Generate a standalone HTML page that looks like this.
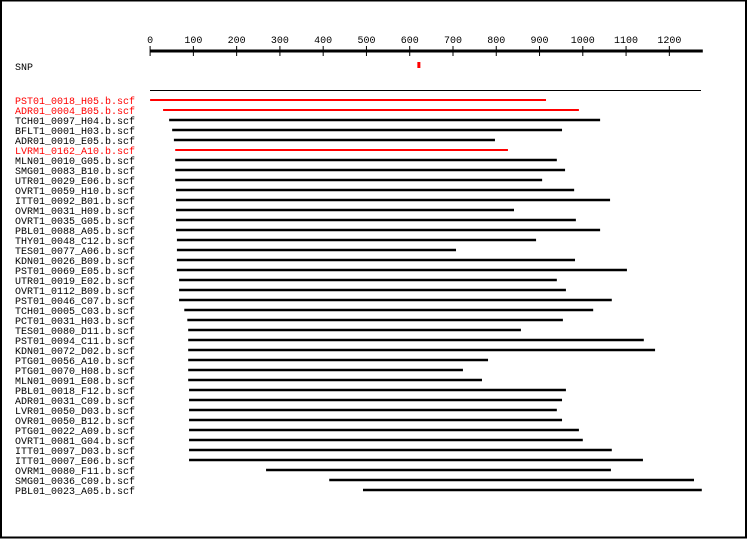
<!DOCTYPE html>
<html><head><meta charset="utf-8"><style>
html,body{margin:0;padding:0;background:#fff;}
svg{display:block;font-family:"Liberation Mono","DejaVu Sans Mono",monospace;}
</style></head><body>
<svg id="chart" width="750" height="540">
<rect x="1" y="0.5" width="745" height="537" fill="#fff" stroke="#000" stroke-width="2"/>
<g id="axis"></g>
<text x="15" y="70" font-size="10">SNP</text>
<g id="snp"></g>
<line x1="150" y1="90.5" x2="701" y2="90.5" stroke="#000" stroke-width="1"/>
<g id="reads"></g>
</svg>
<script>
const tickValues = [0,100,200,300,400,500,600,700,800,900,1000,1100,1200];
const axisMax = 1275;
const snpPositions = [620];
const readNames = ["PST01_0018_H05.b.scf","ADR01_0004_B05.b.scf","TCH01_0097_H04.b.scf","BFLT1_0001_H03.b.scf","ADR01_0010_E05.b.scf","LVRM1_0162_A10.b.scf","MLN01_0010_G05.b.scf","SMG01_0083_B10.b.scf","UTR01_0029_E06.b.scf","OVRT1_0059_H10.b.scf","ITT01_0092_B01.b.scf","OVRM1_0031_H09.b.scf","OVRT1_0035_G05.b.scf","PBL01_0088_A05.b.scf","THY01_0048_C12.b.scf","TES01_0077_A06.b.scf","KDN01_0026_B09.b.scf","PST01_0069_E05.b.scf","UTR01_0019_E02.b.scf","OVRT1_0112_B09.b.scf","PST01_0046_C07.b.scf","TCH01_0005_C03.b.scf","PCT01_0031_H03.b.scf","TES01_0080_D11.b.scf","PST01_0094_C11.b.scf","KDN01_0072_D02.b.scf","PTG01_0056_A10.b.scf","PTG01_0070_H08.b.scf","MLN01_0091_E08.b.scf","PBL01_0018_F12.b.scf","ADR01_0031_C09.b.scf","LVR01_0050_D03.b.scf","OVR01_0050_B12.b.scf","PTG01_0022_A09.b.scf","OVRT1_0081_G04.b.scf","ITT01_0097_D03.b.scf","ITT01_0007_E06.b.scf","OVRM1_0080_F11.b.scf","SMG01_0036_C09.b.scf","PBL01_0023_A05.b.scf"];
const readStarts = [0,30,44,51,55,58,58,58,58,60,60,60,60,60,62,62,62,62,67,67,67,79,86,88,88,88,88,88,88,90,90,90,90,90,90,90,90,268,414,492];
const readEnds = [915,991,1040,952,797,827,940,959,906,980,1063,841,984,1040,892,707,982,1102,940,961,1067,1024,954,857,1141,1167,781,723,767,961,952,940,952,991,1000,1067,1139,1065,1257,1275];
const readHasSnp = [1,1,0,0,0,1,0,0,0,0,0,0,0,0,0,0,0,0,0,0,0,0,0,0,0,0,0,0,0,0,0,0,0,0,0,0,0,0,0,0];

const NS = "http://www.w3.org/2000/svg";
const x = v => 150.1 + v * 0.4327;
const rowY = i => 100 + i * 10;
function mk(tag, attrs, parent){const e=document.createElementNS(NS,tag);for(const k in attrs)e.setAttribute(k,attrs[k]);parent.appendChild(e);return e;}

const axis = document.getElementById('axis');
let al = mk('line',{x1:x(0),y1:51,x2:x(axisMax)+1,y2:51,stroke:'#000','stroke-width':3},axis);


tickValues.forEach(v=>{
  const t = mk('line',{x1:x(v),y1:46,x2:x(v),y2:56,stroke:'#000','stroke-width':1},axis);
  
  
  const l = mk('text',{x:x(v),y:43,'font-size':10,'text-anchor':'middle'},axis);
  l.textContent = String(v);
  
  
});
const snp = document.getElementById('snp');
snpPositions.forEach(p=>{
  const r = mk('rect',{x:x(p)-1,y:62,width:3,height:6,fill:'#f00'},snp);
  
  
});
const reads = document.getElementById('reads');
readNames.forEach((n,i)=>{
  const col = readHasSnp[i] ? '#f00' : '#000';
  const t = mk('text',{x:15,y:rowY(i)+4,'font-size':10,fill:col},reads);
  t.textContent = n;
  
  
  const ln = mk('line',{x1:x(readStarts[i]),y1:rowY(i),x2:x(readEnds[i]),y2:rowY(i),stroke:col,'stroke-width':readHasSnp[i]?2:2.5},reads);
  
  
});
</script>
</body></html>
